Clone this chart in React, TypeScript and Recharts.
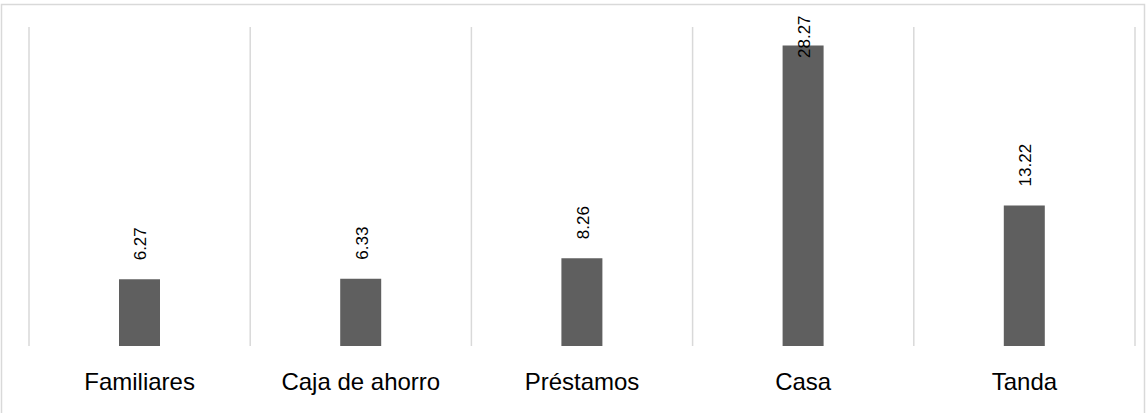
import { Bar, BarChart, CartesianGrid, LabelList, XAxis, YAxis } from 'recharts'

const categories = ['Familiares', 'Caja de ahorro', 'Préstamos', 'Casa', 'Tanda']
const values = [6.27, 6.33, 8.26, 28.27, 13.22]

const data = categories.map((name, i) => ({ name, value: values[i] }))

const WIDTH = 1146
const HEIGHT = 413
const MARGIN = { top: 27, right: 11, bottom: 0, left: 29 }

// rotated value label sitting above each bar, pushed down when it would leave the chart
function ValueLabel(props: any) {
  const { x, y, width, value } = props
  const cx = Number(x) + Number(width) / 2
  const base = Math.max(Number(y) - 19, 58)
  return (
    <text
      x={cx + 7}
      y={base}
      transform={`rotate(-90 ${cx + 7} ${base})`}
      textAnchor="start"
      fontSize={17}
      fontFamily="'Liberation Sans', Arial, sans-serif"
      fill="#000"
    >
      {Number(value).toFixed(2)}
    </text>
  )
}

function CategoryTick(props: any) {
  const { x, payload } = props
  return (
    <text
      x={x}
      y={390}
      textAnchor="middle"
      fontSize={24}
      fontFamily="'Liberation Sans', Arial, sans-serif"
      fill="#000"
    >
      {payload.value}
    </text>
  )
}

export default function App() {
  return (
    <div style={{ position: 'absolute', top: 0, left: 0, width: WIDTH, height: HEIGHT, background: '#fff' }}>
      <svg width={WIDTH} height={HEIGHT} style={{ position: 'absolute', top: 0, left: 0 }}>
        <rect x={1.5} y={4.5} width={1143} height={414} fill="none" stroke="#d9d9d9" strokeWidth={1.5} />
      </svg>
      <BarChart width={WIDTH} height={HEIGHT} data={data} margin={MARGIN}>
        <CartesianGrid
          horizontal={false}
          stroke="#d9d9d9"
          strokeWidth={1.5}
          verticalCoordinatesGenerator={({ offset }: any) =>
            Array.from({ length: categories.length + 1 }, (_, i) => offset.left + (i * offset.width) / categories.length)
          }
        />
        <XAxis dataKey="name" height={67} axisLine={false} tickLine={false} tick={<CategoryTick />} interval={0} />
        <YAxis hide domain={[0, 30]} />
        <Bar dataKey="value" fill="#5f5f5f" barSize={41} isAnimationActive={false}>
          <LabelList dataKey="value" content={<ValueLabel />} />
        </Bar>
      </BarChart>
    </div>
  )
}
